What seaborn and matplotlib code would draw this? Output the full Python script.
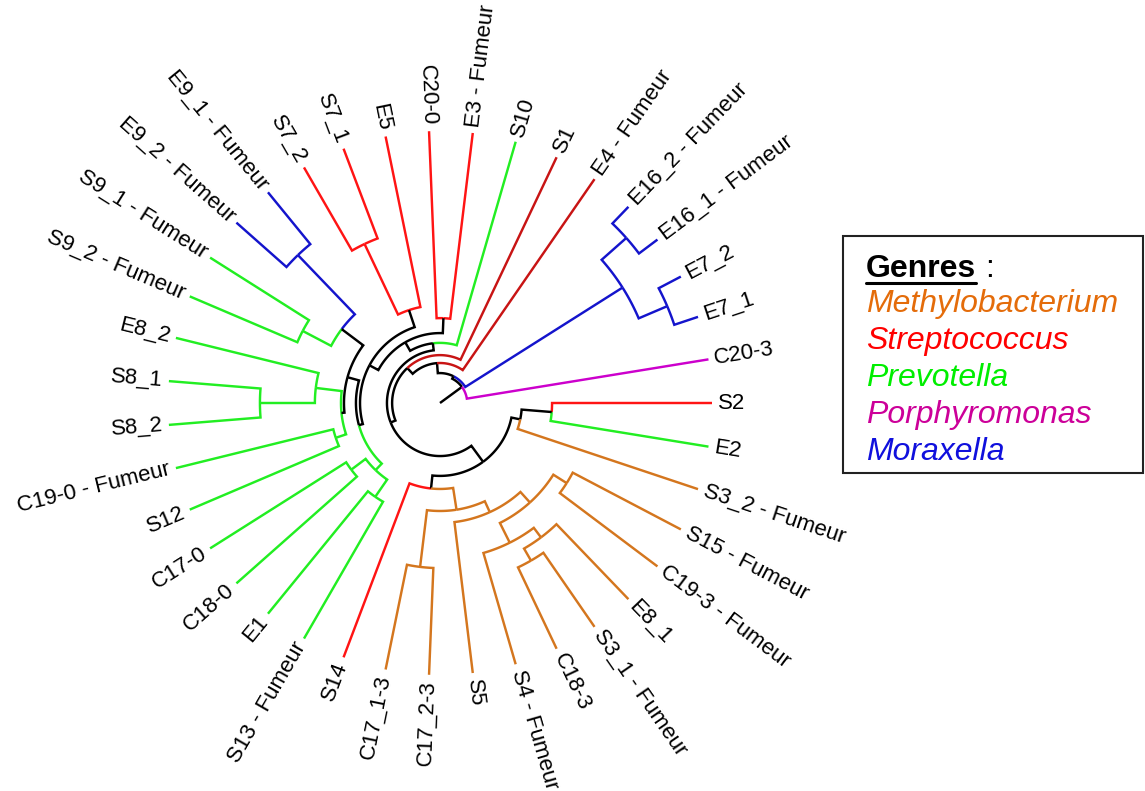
import numpy as np
import pandas as pd
import matplotlib
matplotlib.use("Agg")
import matplotlib.pyplot as plt
from matplotlib.patches import Rectangle
import seaborn as sns

# ---------------------------------------------------------------- data
# samples in tip order (counter-clockwise, starting just above 0 degrees)
sample_ids = ["C20-3", "E7_1", "E7_2", "E16_1", "E16_2", "E4", "S1", "S10",
              "E3", "C20-0", "E5", "S7_1", "S7_2", "E9_1", "E9_2",
              "S9_1", "S9_2", "E8_2", "S8_1", "S8_2", "C19-0", "S12",
              "C17-0", "C18-0", "E1", "S13", "S14", "C17_1-3", "C17_2-3", "S5",
              "S4", "C18-3", "S3_1", "E8_1", "C19-3", "S15",
              "S3_2", "E2", "S2"]
smoker = [0, 0, 0, 1, 1, 1, 0, 0,
          1, 0, 0, 0, 0, 1, 1,
          1, 1, 0, 0, 0, 1, 0,
          0, 0, 0, 1, 0, 0, 0, 0,
          1, 0, 1, 0, 1, 1,
          1, 0, 0]
genus = ["Porphyromonas", "Moraxella", "Moraxella", "Moraxella", "Moraxella",
         "Streptococcus", "Streptococcus", "Prevotella",
         "Streptococcus", "Streptococcus", "Streptococcus", "Streptococcus",
         "Streptococcus", "Moraxella", "Moraxella",
         "Prevotella", "Prevotella", "Prevotella", "Prevotella", "Prevotella",
         "Prevotella", "Prevotella", "Prevotella", "Prevotella", "Prevotella",
         "Prevotella", "Streptococcus",
         "Methylobacterium", "Methylobacterium", "Methylobacterium",
         "Methylobacterium", "Methylobacterium", "Methylobacterium",
         "Methylobacterium", "Methylobacterium", "Methylobacterium",
         "Methylobacterium", "Prevotella", "Streptococcus"]

# merges of the clustering: (node, first child, second child, height)
merges = [
    ("e7", "E7_1", "E7_2", 0.092),
    ("e16", "E16_1", "E16_2", 0.085),
    ("mor", "e7", "e16", 0.206),
    ("c20e3", "E3", "C20-0", 0.688),
    ("s7", "S7_1", "S7_2", 0.353),
    ("e5s7", "E5", "s7", 0.640),
    ("e9", "E9_1", "E9_2", 0.246),
    ("s9", "S9_1", "S9_2", 0.430),
    ("e9s9", "e9", "s9", 0.548),
    ("s8", "S8_1", "S8_2", 0.338),
    ("e8s8", "E8_2", "s8", 0.540),
    ("c19s12", "C19-0", "S12", 0.596),
    ("prev_a", "e8s8", "c19s12", 0.636),
    ("prev_b", "e9s9", "prev_a", 0.647),
    ("c17c18", "C17-0", "C18-0", 0.592),
    ("e1s13", "E1", "S13", 0.581),
    ("prev_c", "c17c18", "e1s13", 0.658),
    ("prev_d", "prev_b", "prev_c", 0.691),
    ("upper_a", "e5s7", "prev_d", 0.706),
    ("upper_b", "c20e3", "upper_a", 0.743),
    ("upper_c", "S10", "upper_b", 0.779),
    ("c17_3", "C17_1-3", "C17_2-3", 0.393),
    ("c18s31", "C18-3", "S3_1", 0.331),
    ("met_a", "c18s31", "E8_1", 0.382),
    ("met_b", "S4", "met_a", 0.426),
    ("c19s15", "C19-3", "S15", 0.449),
    ("met_c", "met_b", "c19s15", 0.507),
    ("met_d", "S5", "met_c", 0.559),
    ("met_e", "c17_3", "met_d", 0.603),
    ("lower_a", "S14", "met_e", 0.684),
    ("s2e2", "E2", "S2", 0.588),
    ("lower_b", "S3_2", "s2e2", 0.699),
    ("lower_c", "lower_a", "lower_b", 0.732),
    ("core_a", "upper_c", "lower_c", 0.805),
    ("core_b", "S1", "core_a", 0.824),
    ("core_c", "E4", "core_b", 0.853),
    ("core_d", "mor", "core_c", 0.890),
    ("root", "C20-3", "core_d", 0.900),
]
# genus assigned to the branch leading into each internal node
branch_genus = {
    "e7": "Moraxella", "e16": "Moraxella", "mor": "Moraxella",
    "s7": "Streptococcus", "e9": "Moraxella", "s9": "Prevotella",
    "s8": "Prevotella", "e8s8": "Prevotella", "c19s12": "Prevotella",
    "c17c18": "Prevotella", "e1s13": "Prevotella", "prev_c": "Prevotella",
    "c17_3": "Methylobacterium", "c18s31": "Methylobacterium",
    "met_a": "Methylobacterium", "met_b": "Methylobacterium",
    "c19s15": "Methylobacterium", "met_c": "Methylobacterium",
    "met_d": "Methylobacterium", "met_e": "Methylobacterium",
}
legend_genera = ["Methylobacterium", "Streptococcus", "Prevotella",
                 "Porphyromonas", "Moraxella"]

# ---------------------------------------------------------------- styles
line_colors = {"Methylobacterium": "#D4761E", "Streptococcus": "#FF1414",
               "Prevotella": "#22EE22", "Porphyromonas": "#CC00CC",
               "Moraxella": "#1414CC", "none": "#000000",
               "Streptococcus (dark)": "#C81414"}
text_colors = {"Methylobacterium": "#E46C0A", "Streptococcus": "#FF0000",
               "Prevotella": "#00EE00", "Porphyromonas": "#CC0099",
               "Moraxella": "#1010DD"}
dark_branch = {"S1", "E4"}

W, H = 1145, 791
CX, CY, R = 440, 403, 272          # centre and tip radius in pixels

sns.set_theme(style="white")
plt.rcParams["font.family"] = ["Liberation Sans", "DejaVu Sans"]

# ---------------------------------------------------------------- layout
n = len(sample_ids)
theta, rad, kids = {}, {}, {}
for i, sid in enumerate(sample_ids):
    theta[sid] = 2 * np.pi * (i + 1) / n
    rad[sid] = 1.0
for name, a, b, h in merges:
    theta[name] = (theta[a] + theta[b]) / 2
    rad[name] = 1.0 - h
    kids[name] = (a, b)

leaf_genus = dict(zip(sample_ids, genus))


def colour_key(node):
    if node in leaf_genus:
        if node in dark_branch:
            return "Streptococcus (dark)"
        return leaf_genus[node]
    return branch_genus.get(node, "none")


rows = []
uid = 0
for parent, (a, b) in kids.items():
    for child in (a, b):
        t0, t1, r0, r1 = theta[parent], theta[child], rad[parent], rad[child]
        m = max(2, int(abs(t1 - t0) / np.radians(1.0)) + 2)
        ts = np.linspace(t0, t1, m)
        xs = list(r0 * np.cos(ts)) + [r1 * np.cos(t1)]
        ys = list(r0 * np.sin(ts)) + [r1 * np.sin(t1)]
        for k, (x, y) in enumerate(zip(xs, ys)):
            rows.append((uid, k, x, y, colour_key(child)))
        uid += 1
# stem from the centre to the first split
rows.append((uid, 0, 0.0, 0.0, "none"))
rows.append((uid, 1, rad["root"] * np.cos(theta["root"]),
             rad["root"] * np.sin(theta["root"]), "none"))
segments = pd.DataFrame(rows, columns=["unit", "order", "x", "y", "branch"])

# ---------------------------------------------------------------- draw
fig = plt.figure(figsize=(W / 100, H / 100), dpi=100)
ax = fig.add_axes([0, 0, 1, 1])
sns.lineplot(data=segments, x="x", y="y", units="unit", estimator=None,
             hue="branch", palette=line_colors, sort=False, legend=False,
             lw=1.75, ax=ax, solid_joinstyle="miter", solid_capstyle="butt")
ax.set_xlim(-CX / R, (W - CX) / R)
ax.set_ylim(-(H - CY) / R, CY / R)
ax.axis("off")

gap = 0.022
for sid, sm in zip(sample_ids, smoker):
    t = theta[sid]
    deg = np.degrees(t) % 360
    label = sid + (" - Fumeur" if sm else "")
    x, y = (1 + gap) * np.cos(t), (1 + gap) * np.sin(t)
    if 90 < deg < 270:
        rot, ha = deg - 180, "right"
    else:
        rot, ha = (deg if deg <= 90 else deg - 360), "left"
    ax.text(x, y, label, rotation=rot, rotation_mode="anchor",
            ha=ha, va="center", fontsize=16, color="black")


# legend box
def fx(px):
    return px / W


def fy(py):
    return 1 - py / H


fig.patches.append(Rectangle((fx(843), fy(473)), fx(1143) - fx(843),
                             fy(236) - fy(473), transform=fig.transFigure,
                             fill=False, edgecolor="#222222", lw=1.5))
t_head = fig.text(fx(866), fy(277), "Genres", fontsize=23, fontweight="bold",
                  va="baseline", ha="left", color="black")
fig.canvas.draw()
bb = t_head.get_window_extent()
fig.text(bb.x1 / W + 0.008, fy(277), ":", fontsize=23, va="baseline",
         ha="left", color="black")
fig.add_artist(plt.Line2D([bb.x0 / W, bb.x1 / W], [fy(282.5), fy(282.5)],
                          transform=fig.transFigure, color="black", lw=2.2))
baselines = [312, 349, 386.5, 423, 460]
for g, yb in zip(legend_genera, baselines):
    fig.text(fx(866), fy(yb), g, fontsize=23, style="italic", va="baseline",
             ha="left", color=text_colors[g])

fig.savefig("out.png", dpi=100)
